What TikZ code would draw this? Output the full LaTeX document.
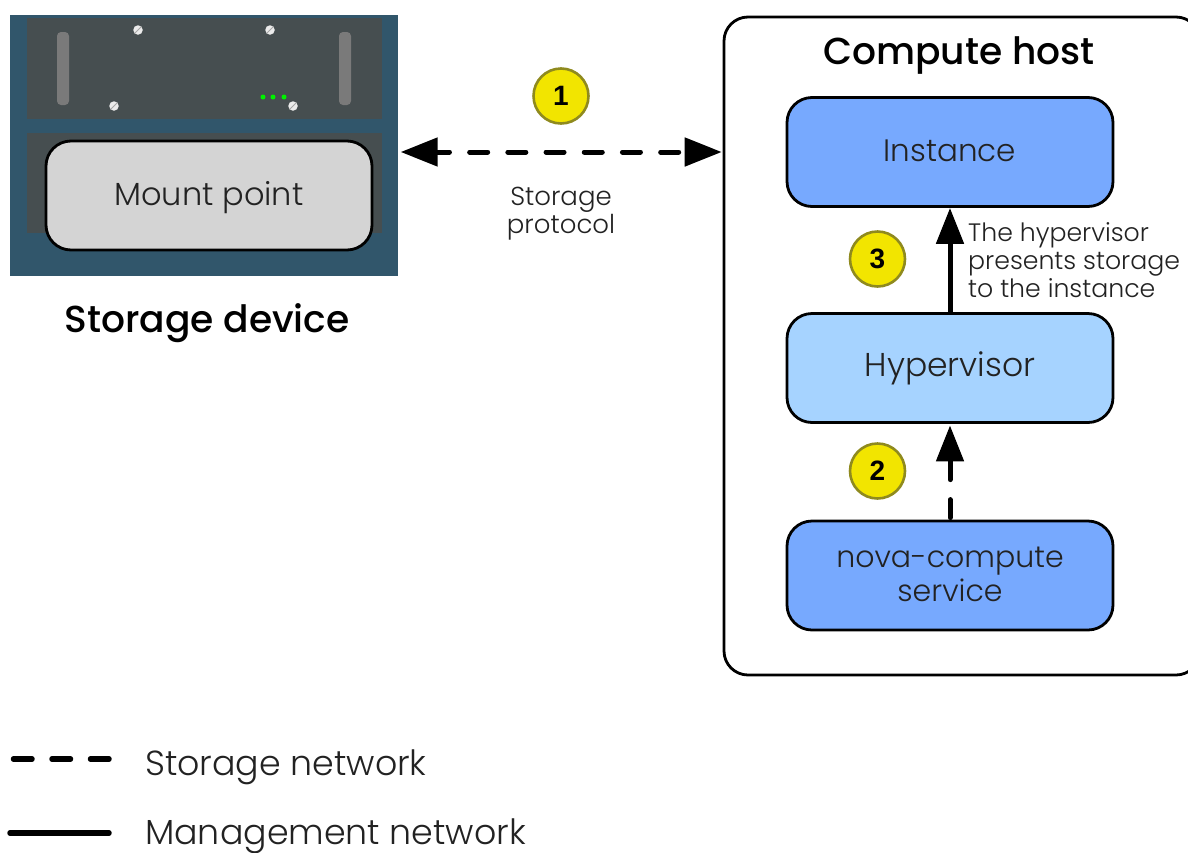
\documentclass[tikz,border=0pt]{standalone}
\usepackage{fontspec}
\setmainfont{Poppins}[UprightFont=* Light,BoldFont=* Medium]
\newfontfamily\numfont{Liberation Sans}[Scale=1]
\usetikzlibrary{arrows.meta}
\definecolor{devblue}{HTML}{31566B}
\definecolor{devgrey}{HTML}{464E50}
\definecolor{slotgrey}{HTML}{7A7A7A}
\definecolor{mountgrey}{HTML}{D4D4D4}
\definecolor{boxblue}{HTML}{77A9FE}
\definecolor{hypblue}{HTML}{A6D3FF}
\definecolor{badgey}{HTML}{F2E500}
\definecolor{badgeb}{HTML}{8F8A1E}
\definecolor{inktext}{HTML}{222222}
\definecolor{ledgreen}{HTML}{00F000}
\tikzset{
  x=1pt,y=-1pt,
  box/.style={draw=black,line width=2.8pt,rounded corners=25pt,minimum width=326pt,minimum height=109pt,inner sep=0pt,align=center,font=\fontsize{31}{34}\selectfont,text=inktext},
  badge/.style={circle,draw=badgeb,line width=2.6pt,fill=badgey,minimum size=55pt,inner sep=0pt,font=\numfont\bfseries\fontsize{28}{28}\selectfont},
  conn/.style={line width=5pt,-{Triangle[length=36pt,width=27pt]}},
  dashconn/.style={conn,line cap=round,dash pattern=on 18pt off 20pt,shorten <=2pt,shorten >=1.5pt},
  lbl/.style={inner sep=0pt,align=left,font=\fontsize{25.2}{28}\selectfont,text=inktext},
  head/.style={inner sep=0pt,font=\bfseries\fontsize{37.6}{40}\selectfont,text=black},
  legend/.style={inner sep=0pt,anchor=base west,font=\fontsize{34.8}{38}\selectfont,text=inktext},
  screw/.style={circle,fill=white!92!black,minimum size=9.5pt,inner sep=0pt,
    path picture={\draw[gray!70,line width=1pt] (path picture bounding box.south west) -- (path picture bounding box.north east);}},
  led/.style={circle,fill=ledgreen,minimum size=5pt,inner sep=0pt},
  slot/.style={fill=slotgrey,rounded corners=4pt},
  legline/.style={line width=5.5pt,line cap=round}
}
\begin{document}
\begin{tikzpicture}
\useasboundingbox (0,0) rectangle (1188,852);
\clip (0,0) rectangle (1188,852);
% storage device
\fill[devblue] (10,15) rectangle (398,276);
\fill[devgrey] (27,18) rectangle (382,119);
\fill[devgrey] (27,133) rectangle (382,233);
\fill[slot] (57,32) rectangle (69,105);
\fill[slot] (339,32) rectangle (351,105);
\node[screw] (s1) at (138,30) {};
\node[screw] (s2) at (270,30) {};
\node[screw] (s3) at (114,106) {};
\node[screw] (s4) at (293,106) {};
\node[led] (g1) at (263,97) {};
\node[led] (g2) at (273,97) {};
\node[led] (g3) at (284,97) {};
\node[box,fill=mountgrey,font=\fontsize{32}{34}\selectfont] (mount) at (209,195.5) {\raisebox{-2pt}[\height][\depth]{Mount point}};
\node[head] (devlabel) at (207,323) {Storage device};
% compute host
\draw[line width=2.8pt,fill=white,rounded corners=24pt] (724,17) rectangle (1200,675);
\node[head] (hostlabel) at (959,56) {Compute host};
\node[box,fill=boxblue] (inst) at (950,152) {\raisebox{1pt}[\height][\depth]{Instance}};
\node[box,fill=hypblue,font=\fontsize{33}{36}\selectfont] (hyp) at (950,368) {Hypervisor};
\node[box,fill=boxblue,font=\fontsize{30}{34}\selectfont] (nova) at (950,575.5) {\raisebox{1pt}[\height][\depth]{nova-compute}\\\raisebox{1pt}[\height][\depth]{service}};
% connectors
\coordinate (mountside) at (400.7,152);
\coordinate (hostside) at (721.7,152);
\draw[line width=5pt,line cap=round,{Triangle[length=37pt,width=28pt]}-{Triangle[length=37pt,width=28pt]},dash pattern=on 18pt off 20.2pt,dash phase=5pt] (mountside) -- (hostside);
\draw[conn] (hyp.north) -- (inst.south);
\draw[dashconn] (nova.north) -- (hyp.south);
% badges
\node[badge] (b1) at (561,96) {1};
\node[badge] (b3) at (877.5,259) {3};
\node[badge] (b2) at (877.5,471) {2};
% labels
\node[lbl,align=center,font=\fontsize{26}{28}\selectfont] (proto) at (561,213.5) {Storage\\protocol};
\node[lbl,anchor=west] (pres) at (968,260.5) {The hypervisor\\presents storage\\to the instance};
% legend
\coordinate (l1a) at (13.5,759);
\coordinate (l1b) at (109,759);
\coordinate (l2a) at (10,833);
\coordinate (l2b) at (109,833);
\draw[legline,dash pattern=on 18.5pt off 20pt] (l1a) -- (l1b);
\draw[legline] (l2a) -- (l2b);
\node[legend] (t1) at (145,775) {Storage network};
\node[legend] (t2) at (145,844.5) {Management network};
\end{tikzpicture}
\end{document}
